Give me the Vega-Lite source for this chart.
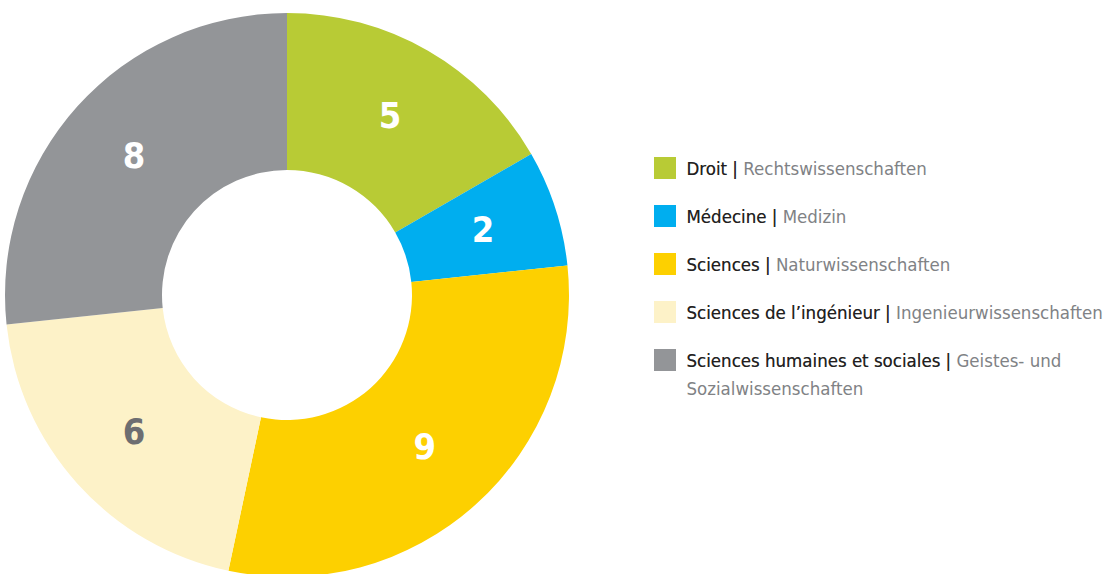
{
  "$schema": "https://vega.github.io/schema/vega-lite/v6.json",
  "padding": 0,
  "spacing": 0,
  "background": "white",
  "config": {"view": {"stroke": null}},
  "datasets": {
    "fields": [
      {"i": 0, "cat": "Droit", "n": 5, "fr": "Droit |", "full": "Droit | Rechtswissenschaften"},
      {"i": 1, "cat": "Médecine", "n": 2, "fr": "Médecine |", "full": "Médecine | Medizin"},
      {"i": 2, "cat": "Sciences", "n": 9, "fr": "Sciences |", "full": "Sciences | Naturwissenschaften"},
      {"i": 3, "cat": "Sciences de l’ingénieur", "n": 6, "fr": "Sciences de l’ingénieur |", "full": "Sciences de l’ingénieur | Ingenieurwissenschaften"},
      {"i": 4, "cat": "Sciences humaines et sociales", "n": 8, "fr": "Sciences humaines et sociales |", "full": "Sciences humaines et sociales | Geistes- und\nSozialwissenschaften"}
    ]
  },
  "hconcat": [
    {
      "width": 574,
      "height": 590,
      "data": {"name": "fields"},
      "encoding": {
        "theta": {"field": "n", "type": "quantitative", "stack": true},
        "order": {"field": "i", "type": "quantitative"}
      },
      "layer": [
        {
          "mark": {"type": "arc", "outerRadius": 282, "innerRadius": 125},
          "encoding": {
            "color": {
              "field": "cat", "type": "nominal", "legend": null,
              "scale": {
                "domain": ["Droit", "Médecine", "Sciences", "Sciences de l’ingénieur", "Sciences humaines et sociales"],
                "range": ["#b8cb35", "#00aeef", "#fdd000", "#fdf2c8", "#939598"]
              }
            }
          }
        },
        {
          "mark": {"type": "text", "radius": 206, "font": "DejaVu Sans Condensed, Roboto", "fontWeight": "bold", "fontSize": 36, "baseline": "middle", "align": "center"},
          "encoding": {
            "text": {"field": "n", "type": "quantitative"},
            "color": {
              "condition": {"test": "datum.i === 3", "value": "#6d6e71"},
              "value": "#ffffff"
            }
          }
        }
      ]
    },
    {
      "width": 533,
      "height": 590,
      "data": {"name": "fields"},
      "encoding": {
        "y": {"field": "i", "type": "quantitative", "axis": null, "scale": {"domain": [-3.5, 8.7916667], "reverse": true, "nice": false, "zero": false}}
      },
      "layer": [
        {
          "mark": {"type": "square", "size": 484, "filled": true, "opacity": 1},
          "encoding": {
            "x": {"datum": 91, "type": "quantitative", "axis": null, "scale": {"domain": [0, 533], "nice": false, "zero": true}},
            "color": {
              "field": "cat", "type": "nominal", "legend": null,
              "scale": {
                "domain": ["Droit", "Médecine", "Sciences", "Sciences de l’ingénieur", "Sciences humaines et sociales"],
                "range": ["#b8cb35", "#00aeef", "#fdd000", "#fdf2c8", "#939598"]
              }
            }
          }
        },
        {
          "mark": {"type": "text", "font": "DejaVu Sans Condensed, Roboto", "fontSize": 18.5, "align": "left", "baseline": "alphabetic", "dy": 7, "lineBreak": "\n", "lineHeight": 28, "color": "#808285"},
          "encoding": {
            "x": {"datum": 112.5, "type": "quantitative"},
            "text": {"field": "full", "type": "nominal"}
          }
        },
        {
          "mark": {"type": "text", "font": "DejaVu Sans Condensed, Roboto", "fontSize": 18.5, "align": "left", "baseline": "alphabetic", "dy": 7, "color": "#231f20"},
          "encoding": {
            "x": {"datum": 112.5, "type": "quantitative"},
            "text": {"field": "fr", "type": "nominal"}
          }
        }
      ]
    }
  ]
}
